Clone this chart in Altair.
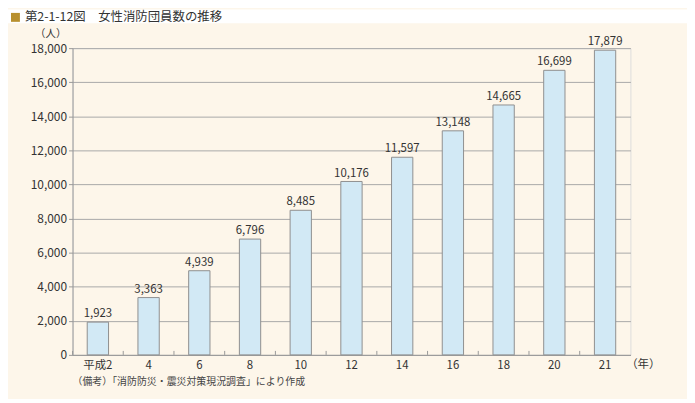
import altair as alt
import pandas as pd

# ---- data ----
years = ["平成2", "4", "6", "8", "10", "12", "14", "16", "18", "20", "21"]
members = [1923, 3363, 4939, 6796, 8485, 10176, 11597, 13148, 14665, 16699, 17879]
y_ticks = [0, 2000, 4000, 6000, 8000, 10000, 12000, 14000, 16000, 18000]

title_text = ["第2-1-12図　女性消防団員数の推移"]
y_unit = ["（人）"]
x_unit = ["（年）"]
note_text = ["（備考）「消防防災・震災対策現況調査」により作成"]

df = pd.DataFrame({"year": years, "members": members})

FONT = "Noto Sans CJK JP"
TXT = "#333333"
GRID = "#a8a8a8"
W, H = 562, 309
STEP = W / len(years)

x_enc = alt.X(
    "year:N", sort=years,
    scale=alt.Scale(paddingInner=0.58, paddingOuter=0.29),
    axis=alt.Axis(title=None, labelAngle=0, ticks=False, domainColor="#999999",
                  labelColor=TXT, labelFontSize=11.5, labelPadding=5, labelFont=FONT),
)
y_enc = alt.Y(
    "members:Q",
    scale=alt.Scale(domain=[0, 18000], nice=False),
    axis=alt.Axis(title=None, values=y_ticks, format=",d", grid=True, gridColor=GRID,
                  domainColor="#999999", tickColor="#999999", tickSize=4, labelPadding=2,
                  labelFontSize=12, labelColor=TXT, labelFont=FONT, labelOverlap=False,
                  tickCount=10),
)

base = alt.Chart(df)

strip = alt.Chart(pd.DataFrame({"a": [0]})).mark_rect(fill="white").encode(
    x=alt.value(-65), x2=alt.value(W + 57), y=alt.value(-39), y2=alt.value(-25)
)

bars = base.mark_bar(fill="#d2e9f5", stroke="#8f8f8f", strokeWidth=1).encode(x=x_enc, y=y_enc)

labels = base.mark_text(baseline="bottom", dy=-3, font=FONT, fontSize=11.5, color=TXT).encode(
    x=x_enc,
    y=y_enc,
    text=alt.Text("members:Q", format=",d"),
)

ticks = base.mark_rule(color="#999999", strokeWidth=1, xOffset=-STEP / 2).encode(
    x=x_enc,
    y=alt.value(H - 4), y2=alt.value(H),
)

square = alt.Chart(pd.DataFrame({"a": [0]})).mark_rect(fill="#b8902f").encode(
    x=alt.value(-62), x2=alt.value(-53), y=alt.value(-35.5), y2=alt.value(-26.5)
)

title = alt.Chart(pd.DataFrame({"t": title_text})).mark_text(
    align="left", baseline="middle", font=FONT, fontSize=12.5, color=TXT
).encode(x=alt.value(-48), y=alt.value(-31), text="t:N")

yunit = alt.Chart(pd.DataFrame({"t": y_unit})).mark_text(
    align="center", baseline="middle", font=FONT, fontSize=10.5, color=TXT
).encode(x=alt.value(-22), y=alt.value(-14.5), text="t:N")

xunit = alt.Chart(pd.DataFrame({"t": x_unit})).mark_text(
    align="center", baseline="middle", font=FONT, fontSize=11.5, color=TXT
).encode(x=alt.value(W + 13), y=alt.value(H + 10), text="t:N")

note = alt.Chart(pd.DataFrame({"t": note_text})).mark_text(
    align="left", baseline="middle", font=FONT, fontSize=10, color="#444444"
).encode(x=alt.value(0), y=alt.value(H + 27), text="t:N")

chart = alt.layer(strip, bars, labels, ticks, square, title, yunit, xunit, note).properties(
    width=W, height=H,
    background="#fdf6ea",
    padding={"left": 65, "top": 39, "right": 57, "bottom": 43},
    autosize=alt.AutoSizeParams(type="none"),
).configure_view(fill="white", stroke="#999999", strokeWidth=1).configure(font=FONT)

chart.save("out.html", embed_options={"renderer": "svg", "actions": False})
